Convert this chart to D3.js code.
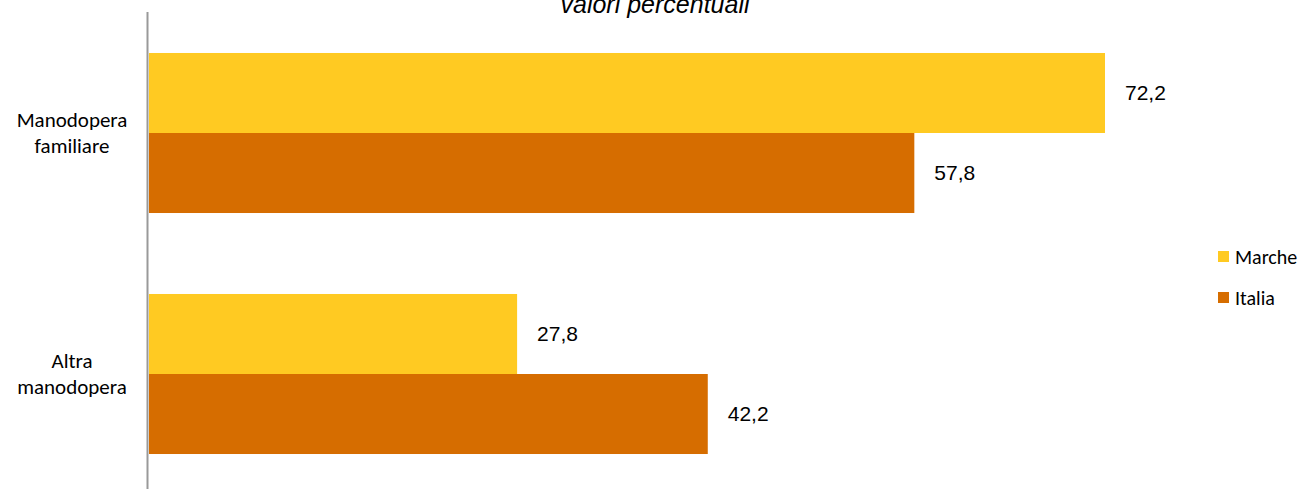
<!DOCTYPE html>
<html>
<head>
<meta charset="utf-8">
<script src="https://cdn.jsdelivr.net/npm/d3@7"></script>
<style>
  body { margin: 0; background: #fff; }
  svg { display: block; }
</style>
</head>
<body>
<svg id="chart" width="1303" height="489"></svg>
<script>
  var categories = ['Manodopera familiare', 'Altra manodopera'];
  var seriesNames = ['Marche', 'Italia'];
  var marche = [72.2, 27.8];
  var italia = [57.8, 42.2];
  var colors = ['#FFCA22', '#D66D00'];

  var width = 1303;
  var height = 489;
  var margin = { left: 149, top: 12.5, bottom: -5.5 };

  var svg = d3.select('#chart');

  var x = d3.scaleLinear()
      .domain([0, 72.2])
      .range([margin.left, 1105]);

  var y = d3.scaleBand()
      .domain(categories)
      .range([margin.top, height - margin.bottom])
      .paddingInner(0.336)
      .paddingOuter(0.168);

  var y1 = d3.scaleBand()
      .domain(seriesNames)
      .range([0, y.bandwidth()]);

  var values = [marche, italia];

  var groups = svg.append('g')
      .selectAll('g')
      .data(categories)
      .enter().append('g')
        .attr('transform', function(d) { return 'translate(0,' + y(d) + ')'; });

  var cells = function(d, i) {
    return seriesNames.map(function(s, j) { return { s: s, v: values[j][i], j: j }; });
  };

  groups.selectAll('rect')
      .data(cells)
      .enter().append('rect')
        .attr('x', x(0))
        .attr('y', function(d) { return y1(d.s); })
        .attr('width', function(d) { return x(d.v) - x(0); })
        .attr('height', y1.bandwidth())
        .style('fill', function(d) { return colors[d.j]; });

  groups.selectAll('text.val')
      .data(cells)
      .enter().append('text')
        .attr('class', 'val')
        .attr('x', function(d) { return x(d.v) + 20; })
        .attr('y', function(d) { return y1(d.s) + y1.bandwidth() / 2; })
        .attr('dy', '0.35em')
        .style('font-family', 'Liberation Sans, Arial, sans-serif')
        .style('font-size', '21px')
        .style('fill', '#000')
        .text(function(d) { return d3.format('.1f')(d.v).replace('.', ','); });

  // vertical axis line
  svg.append('line')
      .attr('x1', 147.5).attr('x2', 147.5)
      .attr('y1', 12).attr('y2', height)
      .style('stroke', '#999')
      .style('stroke-width', 2);

  // category labels
  var catLabels = svg.append('g')
      .selectAll('text')
      .data(categories)
      .enter().append('text')
        .attr('x', 72)
        .attr('y', function(d) { return y(d) + y.bandwidth() / 2; })
        .style('text-anchor', 'middle')
        .style('font-family', 'Carlito, Calibri, "Open Sans", sans-serif')
        .style('font-size', '21px')
        .style('fill', '#000');

  catLabels.each(function(d) {
    var words = d.split(' ');
    var t = d3.select(this);
    t.append('tspan').attr('x', 72).attr('dy', '-0.3em').text(words[0]);
    t.append('tspan').attr('x', 72).attr('dy', '1.25em').text(words.slice(1).join(' '));
  });

  // title (partly cut off at top, as in the original)
  svg.append('text')
      .attr('x', 655)
      .attr('y', 13)
      .style('text-anchor', 'middle')
      .style('font-family', 'Liberation Sans, Arial, sans-serif')
      .style('font-style', 'italic')
      .style('font-size', '25px')
      .style('fill', '#000')
      .text('valori percentuali');

  // legend
  var legend = svg.append('g')
      .selectAll('g')
      .data(seriesNames)
      .enter().append('g')
        .attr('transform', function(d, i) { return 'translate(1218,' + (251 + i * 41) + ')'; });

  legend.append('rect')
      .attr('width', 11)
      .attr('height', 11)
      .style('fill', function(d, i) { return colors[i]; });

  legend.append('text')
      .attr('x', 17)
      .attr('y', 6)
      .attr('dy', '0.35em')
      .style('font-family', 'Carlito, Calibri, "Open Sans", sans-serif')
      .style('font-size', '20px')
      .style('fill', '#000')
      .text(function(d) { return d; });
</script>
</body>
</html>
